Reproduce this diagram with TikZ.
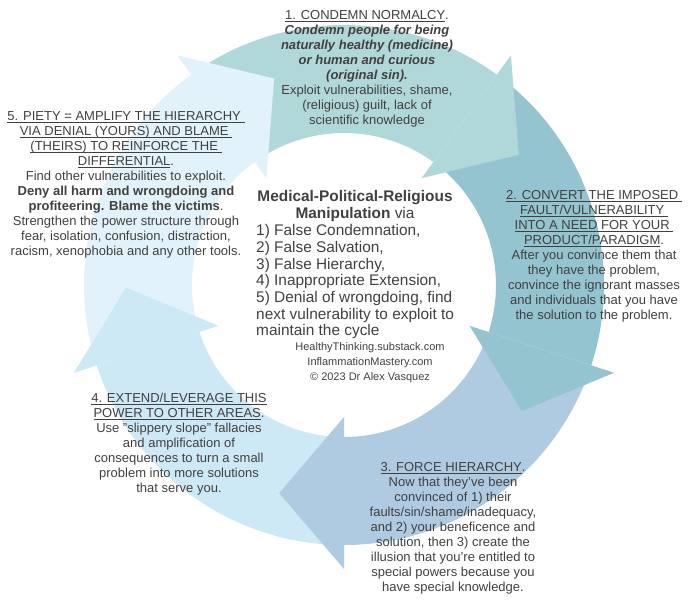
\documentclass[tikz,border=0pt]{standalone}
\usepackage{fontspec}
\setmainfont{Liberation Sans}
\usetikzlibrary{calc}

\definecolor{cycleA}{RGB}{177,216,217}
\definecolor{cycleB}{RGB}{147,196,208}
\definecolor{cycleC}{RGB}{174,203,225}
\definecolor{cycleD}{RGB}{206,233,246}
\definecolor{cycleE}{RGB}{225,242,250}
\definecolor{inktext}{RGB}{64,64,64}

\newcommand\ulin[1]{\setbox0=\hbox{#1}\rlap{\rule[-2.3pt]{\wd0}{0.9pt}}\box0}

\tikzset{
	stepnote/.style={align=center, inner sep=0pt, anchor=north, text=inktext, font=\fontsize{13}{15}\selectfont},
	bignote/.style={inner sep=0pt, anchor=north, text=inktext, font=\fontsize{15.4}{16.7}\selectfont}
}

\begin{document}
\begin{tikzpicture}[x=1pt, y=1pt]
		\useasboundingbox (0,0) rectangle (693,-606);
		\coordinate (c) at (344,-285);
		
		% Ring segments
		\foreach \from/\to/\col in {124/54/cycleA, 52/-18/cycleB, 340/270/cycleC, 268/198/cycleD, 196/126/cycleE} {
			\fill[\col] ($(c)+(\from:260)$) arc[start angle=\from, end angle=\to, radius=260]
				-- ($(c)+(\to:152)$) arc[start angle=\to, end angle=\from, radius=152] -- cycle;
		}
		
		% Arrow heads
		\foreach \to/\col in {54/cycleA, -18/cycleB, 270/cycleC, 198/cycleD, 126/cycleE} {
			\fill[\col] ($(c)+(\to:284)$) -- ($(c)+({\to-17.3}:218)$) -- ($(c)+(\to:132)$) -- cycle;
		}
		
		% Step texts
		\node[stepnote] (condemn) at (367,-10.3) {\ulin{1. CONDEMN NORMALCY}.\\
			\textbf{\textit{Condemn people for being}}\\
			\textbf{\textit{naturally healthy (medicine)}}\\
			\textbf{\textit{or human and curious}}\\
			\textbf{\textit{(original sin).}}\\
			Exploit vulnerabilities, shame,\\
			(religious) guilt, lack of\\
			scientific knowledge};
		\node[stepnote] (convert) at (594,-190.3) {\ulin{2. CONVERT THE IMPOSED\ }\\
			\ulin{FAULT/VULNERABILITY\ }\\
			\ulin{INTO A NEED FOR YOUR\ }\\
			\ulin{PRODUCT/PARADIGM}.\\
			After you convince them that\\
			they have the problem,\\
			convince the ignorant masses\\
			and individuals that you have\\
			the solution to the problem.};
		\node[stepnote] (force) at (453,-462.3) {\ulin{3. FORCE HIERARCHY}.\\
			Now that they've been\\
			convinced of 1) their\\
			faults/sin/shame/inadequacy,\\
			and 2) your beneficence and\\
			solution, then 3) create the\\
			illusion that you're entitled to\\
			special powers because you\\
			have special knowledge.};
		\node[stepnote] (extend) at (179,-393.3) {\ulin{4. EXTEND/LEVERAGE THIS}\\
			\ulin{POWER TO OTHER AREAS}.\\
			Use "slippery slope" fallacies\\
			and amplification of\\
			consequences to turn a small\\
			problem into more solutions\\
			that serve you.};
		\node[stepnote] (piety) at (126,-111.3) {\ulin{5. PIETY = AMPLIFY THE HIERARCHY\ }\\
			\ulin{VIA DENIAL (YOURS) AND BLAME\ }\\
			\ulin{(THEIRS) TO REINFORCE THE\ }\\
			\ulin{DIFFERENTIAL}.\\
			Find other vulnerabilities to exploit.\\
			\textbf{Deny all harm and wrongdoing and}\\
			\textbf{profiteering. Blame the victims}.\\
			Strengthen the power structure through\\
			fear, isolation, confusion, distraction,\\
			racism, xenophobia and any other tools.};
		
		% Centre text
		\node[bignote, align=center] (maintitle) at (355,-190.3) {\textbf{Medical-Political-Religious}\\
			\textbf{Manipulation} via};
		\node[bignote, align=left, anchor=north west] (mainlist) at (256,-224.3) {1) False Condemnation,\\
			2) False Salvation,\\
			3) False Hierarchy,\\
			4) Inappropriate Extension,\\
			5) Denial of wrongdoing, find\\
			next vulnerability to exploit to\\
			maintain the cycle};
		\node[stepnote, font=\fontsize{11}{15}\selectfont] (credits) at (370,-342.6) {HealthyThinking.substack.com\\
			InflammationMastery.com\\
			© 2023 Dr Alex Vasquez};
		
	\end{tikzpicture}
\end{document}
